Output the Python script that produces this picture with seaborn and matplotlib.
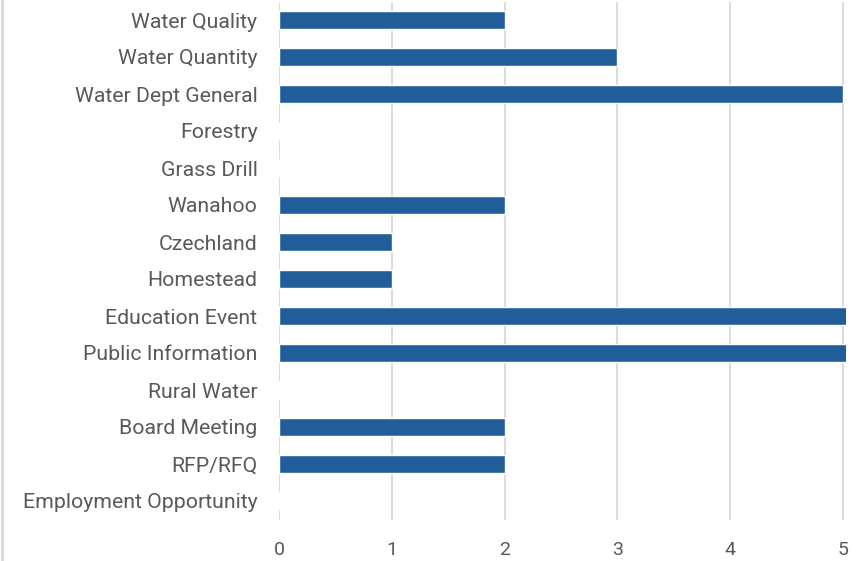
import matplotlib
matplotlib.use("Agg")
import matplotlib.pyplot as plt
import seaborn as sns
import pandas as pd
from matplotlib.lines import Line2D

categories = ["Water Quality", "Water Quantity", "Water Dept General", "Forestry",
              "Grass Drill", "Wanahoo", "Czechland", "Homestead", "Education Event",
              "Public Information", "Rural Water", "Board Meeting", "RFP/RFQ",
              "Employment Opportunity"]
counts = [2, 3, 5, 0, 0, 2, 1, 1, 6, 6, 0, 2, 2, 0]
xticks = [0, 1, 2, 3, 4, 5]

df = pd.DataFrame({"category": categories, "count": counts})

sns.set_theme(style="white")
plt.rcParams["font.family"] = ["Roboto", "DejaVu Sans"]

W, H = 857, 561
fig = plt.figure(figsize=(W / 100, H / 100), dpi=100)
x0, x5 = 279, 843
unit = (x5 - x0) / 5
right_px = 846
top_px, bot_px = 1.5, 519.5
ax = fig.add_axes([x0 / W, 1 - bot_px / H, (right_px - x0) / W, (bot_px - top_px) / H])

sns.barplot(data=df, y="category", x="count", orient="h", color="#215E99",
            saturation=1, width=0.46, ax=ax, zorder=3)
ax.set_xlim(0, (right_px - x0) / unit)
ax.set_xticks(xticks)
ax.set_xticklabels([str(t) for t in xticks])
ax.set_xlabel("")
ax.set_ylabel("")
for s in ax.spines.values():
    s.set_visible(False)
ax.grid(False)
for t in xticks:
    ax.axvline(t, color="#D9D9D9", lw=1.3, zorder=1, ymin=0, ymax=1)
ax.tick_params(axis="y", length=0, pad=15.5, labelsize=15.3, labelcolor="#595959")
ax.tick_params(axis="x", length=0, pad=15.5, labelsize=14, labelcolor="#595959")
for lbl in ax.get_xticklabels():
    lbl.set_horizontalalignment("center")

fig.add_artist(Line2D([1.5 / W, 1.5 / W], [0, 1], color="#D9D9D9", lw=2,
                      transform=fig.transFigure))
fig.savefig("out.png", dpi=100, facecolor="white")
